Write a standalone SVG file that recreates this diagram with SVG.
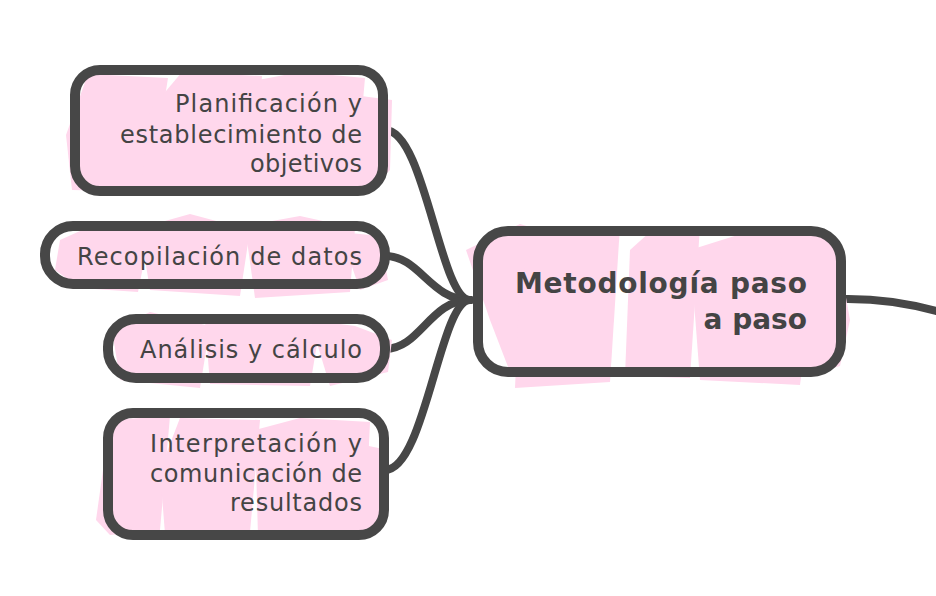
<svg xmlns="http://www.w3.org/2000/svg" width="936" height="596" viewBox="0 0 936 596">
<style>
.pink{fill:#ffd7ec;stroke:none}
.box{fill:none;stroke:#474747;stroke-width:10;stroke-linejoin:round}
.conn{fill:none;stroke:#474747;stroke-width:8;stroke-linecap:round}
.t{font-family:"DejaVu Sans",sans-serif;font-size:24px;fill:#444;text-anchor:end}
.tb{font-family:"DejaVu Sans",sans-serif;font-size:28px;font-weight:bold;fill:#444;text-anchor:end}
</style>
<rect width="936" height="596" fill="#fff"/>
<g id="connectors">
<path class="conn" d="M470 300 C440 300 425 130 385 130"/>
<path class="conn" d="M470 300 C430 300 420 256 385 256"/>
<path class="conn" d="M470 300 C430 300 420 349 385 349"/>
<path class="conn" d="M470 300 C440 300 425 470 385 470"/>
<path class="conn" d="M841 299 Q890 298 936 311"/>
</g>
<g id="central">
<polygon class="pink" points="466,250 520,224 560,236 545,360 510,372 490,320"/>
<polygon class="pink" points="520,280 540,232 620,226 610,382 515,388"/>
<polygon class="pink" points="630,250 650,232 700,226 690,378 625,376"/>
<polygon class="pink" points="690,250 760,228 820,236 800,385 700,380"/>
<polygon class="pink" points="780,240 835,236 850,320 840,366 790,380"/>
<rect class="box" x="478" y="231" width="363" height="141" rx="30"/>
<text class="tb" x="807" y="293" textLength="292">Metodología paso</text>
<text class="tb" x="807" y="329">a paso</text>
</g>
<g id="n1">
<polygon class="pink" points="66,135 88,74 168,78 150,192 72,190"/>
<polygon class="pink" points="150,110 182,72 262,76 252,194 140,192"/>
<polygon class="pink" points="258,80 300,72 365,78 355,190 245,194"/>
<polygon class="pink" points="330,92 392,100 390,170 370,190 340,188"/>
<rect class="box" x="75" y="70" width="308" height="121" rx="25"/>
<text class="t" x="362" y="112" textLength="187">Planificación y</text>
<text class="t" x="362" y="143" textLength="242">establecimiento de</text>
<text class="t" x="362" y="172" textLength="112">objetivos</text>
</g>
<g id="n2">
<polygon class="pink" points="60,240 100,222 150,232 138,292 80,288 55,270"/>
<polygon class="pink" points="140,228 190,214 250,230 240,296 150,290"/>
<polygon class="pink" points="245,226 300,216 355,228 350,292 255,298"/>
<polygon class="pink" points="340,232 380,236 388,280 360,290"/>
<rect class="box" x="45" y="226" width="340" height="58" rx="28"/>
<text class="t" x="362" y="265" textLength="285">Recopilación de datos</text>
</g>
<g id="n3">
<polygon class="pink" points="112,330 150,312 210,326 200,388 120,380"/>
<polygon class="pink" points="205,322 260,314 320,326 310,386 210,384"/>
<polygon class="pink" points="310,320 355,326 392,340 388,372 330,386"/>
<rect class="box" x="108" y="319" width="277" height="59" rx="28"/>
<text class="t" x="362" y="358" textLength="222">Análisis y cálculo</text>
</g>
<g id="n4">
<polygon class="pink" points="96,520 110,420 170,416 160,530 110,535"/>
<polygon class="pink" points="160,470 180,418 260,420 250,532 165,534"/>
<polygon class="pink" points="255,430 300,418 370,422 365,530 258,536"/>
<polygon class="pink" points="340,440 388,450 384,520 360,534"/>
<rect class="box" x="108" y="413" width="276" height="122" rx="25"/>
<text class="t" x="362" y="452" textLength="212">Interpretación y</text>
<text class="t" x="362" y="482" textLength="212">comunicación de</text>
<text class="t" x="362" y="511" textLength="132">resultados</text>
</g>
</svg>
